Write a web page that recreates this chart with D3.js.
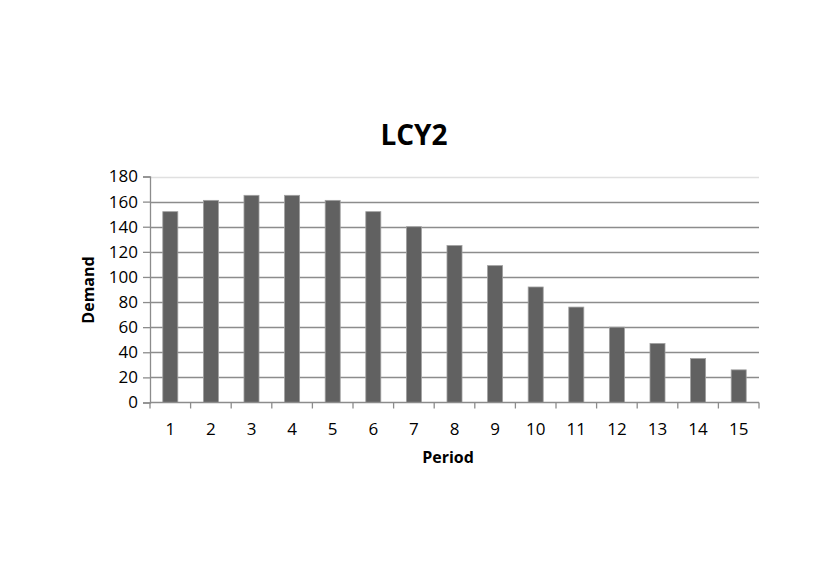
<!DOCTYPE html>
<html>
<head>
<meta charset="utf-8">
<script src="https://cdn.jsdelivr.net/npm/d3@7"></script>
<style>
  body { margin: 0; background: #fff; }
  text { font-family: "Open Sans", "Noto Sans", sans-serif; fill: #000; }
</style>
</head>
<body>
<div id="chart"></div>
<script>
// data
var periods = [1, 2, 3, 4, 5, 6, 7, 8, 9, 10, 11, 12, 13, 14, 15];
var demand  = [152, 161, 165, 165, 161, 152, 140, 125, 109, 92, 76, 60, 47, 35, 26];
var yTicks  = [0, 20, 40, 60, 80, 100, 120, 140, 160, 180];

var width = 830, height = 587;
var margin = {top: 176.5, left: 150, right: 71, bottom: 184.5};

var svg = d3.select("#chart").append("svg")
    .attr("width", width)
    .attr("height", height);

var x = d3.scaleBand()
    .domain(periods)
    .range([margin.left, width - margin.right])
    .paddingInner(0.63)
    .paddingOuter(0.315);

var y = d3.scaleLinear()
    .domain([0, 180])
    .range([height - margin.bottom, margin.top]);

// gridlines
svg.append("g").selectAll("line")
    .data(yTicks.filter(function(d){ return d > 0; }))
    .enter().append("line")
    .attr("x1", margin.left)
    .attr("x2", width - margin.right)
    .attr("y1", function(d){ return Math.round(y(d)) + 0.5; })
    .attr("y2", function(d){ return Math.round(y(d)) + 0.5; })
    .attr("stroke", function(d){ return d == 180 ? "#e0e0e0" : "#8c8c8c"; })
    .attr("stroke-width", 1.3);

// bars
svg.append("g").selectAll("rect")
    .data(periods)
    .enter().append("rect")
    .attr("x", function(d){ return x(d); })
    .attr("width", x.bandwidth())
    .attr("y", function(d, i){ return y(demand[i]); })
    .attr("height", function(d, i){ return y(0) - y(demand[i]); })
    .attr("fill", "#616161")
    .attr("stroke", "#a0a0a0")
    .attr("stroke-width", 0.8);

// y axis
var yAxis = svg.append("g")
    .attr("transform", "translate(" + margin.left + ",0)")
    .call(d3.axisLeft(y).tickValues(yTicks).tickSize(7).tickPadding(5));
yAxis.select(".domain").attr("stroke", "#8c8c8c").attr("stroke-width", 1.3);
yAxis.selectAll(".tick line").attr("stroke", "#8c8c8c").attr("stroke-width", 1.3);
yAxis.selectAll("text").attr("font-size", 17).attr("font-family", "Open Sans").attr("fill", "#000");

// x axis: tick marks sit at category boundaries
var bounds = d3.range(periods.length + 1).map(function(i){
    return margin.left + i * x.step();
});
var xg = svg.append("g");
xg.append("line")
    .attr("x1", margin.left).attr("x2", width - margin.right)
    .attr("y1", y(0)).attr("y2", y(0))
    .attr("stroke", "#8c8c8c").attr("stroke-width", 1.3);
xg.selectAll("line.tk")
    .data(bounds)
    .enter().append("line")
    .attr("class", "tk")
    .attr("x1", function(d){ return d; })
    .attr("x2", function(d){ return d; })
    .attr("y1", y(0))
    .attr("y2", y(0) + 6)
    .attr("stroke", "#8c8c8c").attr("stroke-width", 1.3);
xg.selectAll("text")
    .data(periods)
    .enter().append("text")
    .attr("x", function(d){ return x(d) + x.bandwidth() / 2; })
    .attr("y", y(0) + 32)
    .attr("text-anchor", "middle")
    .attr("font-size", 17)
    .text(function(d){ return d; });

// title and axis titles
svg.append("text")
    .attr("x", 414).attr("y", 145)
    .attr("text-anchor", "middle")
    .attr("font-size", 28)
    .attr("font-weight", "bold")
    .text("LCY2");

svg.append("text")
    .attr("x", 448).attr("y", 463)
    .attr("text-anchor", "middle")
    .attr("font-size", 16)
    .attr("font-weight", "bold")
    .text("Period");

svg.append("text")
    .attr("transform", "translate(94,290) rotate(-90)")
    .attr("text-anchor", "middle")
    .attr("font-size", 16)
    .attr("font-weight", "bold")
    .text("Demand");
</script>
</body>
</html>
